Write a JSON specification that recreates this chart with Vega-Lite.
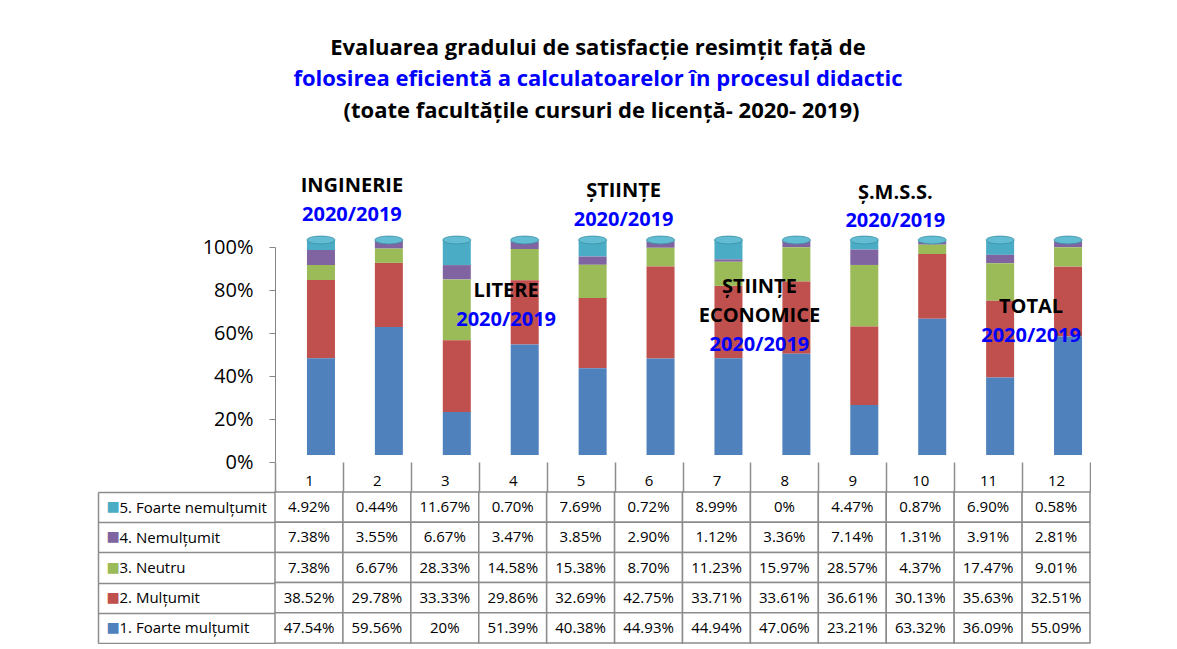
{
  "$schema": "https://vega.github.io/schema/vega-lite/v6.json",
  "autosize": {"type": "pad"},
  "padding": {"left": 97, "top": 36, "right": 0, "bottom": 0},
  "background": "white",
  "bounds": "flush",
  "spacing": 30,
  "title": {
    "text": "Evaluarea gradului de satisfacție resimțit față de",
    "subtitle": "folosirea eficientă a calculatoarelor  în procesul didactic",
    "anchor": "middle",
    "frame": "bounds",
    "font": "Open Sans", "fontSize": 22, "fontWeight": "bold", "color": "black",
    "subtitleFont": "Open Sans", "subtitleFontSize": 22, "subtitleFontWeight": "bold", "subtitleColor": "#0000FF",
    "subtitlePadding": 9,
    "offset": 9,
    "dx": 4
  },
  "datasets": {
    "tbl": [
      {"c": 1, "s": "5. Foarte nemulțumit", "v": 4.92, "t": "4.92%"},
      {"c": 1, "s": "4. Nemulțumit", "v": 7.38, "t": "7.38%"},
      {"c": 1, "s": "3. Neutru", "v": 7.38, "t": "7.38%"},
      {"c": 1, "s": "2. Mulțumit", "v": 38.52, "t": "38.52%"},
      {"c": 1, "s": "1. Foarte mulțumit", "v": 47.54, "t": "47.54%"},
      {"c": 2, "s": "5. Foarte nemulțumit", "v": 0.44, "t": "0.44%"},
      {"c": 2, "s": "4. Nemulțumit", "v": 3.55, "t": "3.55%"},
      {"c": 2, "s": "3. Neutru", "v": 6.67, "t": "6.67%"},
      {"c": 2, "s": "2. Mulțumit", "v": 29.78, "t": "29.78%"},
      {"c": 2, "s": "1. Foarte mulțumit", "v": 59.56, "t": "59.56%"},
      {"c": 3, "s": "5. Foarte nemulțumit", "v": 11.67, "t": "11.67%"},
      {"c": 3, "s": "4. Nemulțumit", "v": 6.67, "t": "6.67%"},
      {"c": 3, "s": "3. Neutru", "v": 28.33, "t": "28.33%"},
      {"c": 3, "s": "2. Mulțumit", "v": 33.33, "t": "33.33%"},
      {"c": 3, "s": "1. Foarte mulțumit", "v": 20, "t": "20%"},
      {"c": 4, "s": "5. Foarte nemulțumit", "v": 0.70, "t": "0.70%"},
      {"c": 4, "s": "4. Nemulțumit", "v": 3.47, "t": "3.47%"},
      {"c": 4, "s": "3. Neutru", "v": 14.58, "t": "14.58%"},
      {"c": 4, "s": "2. Mulțumit", "v": 29.86, "t": "29.86%"},
      {"c": 4, "s": "1. Foarte mulțumit", "v": 51.39, "t": "51.39%"},
      {"c": 5, "s": "5. Foarte nemulțumit", "v": 7.69, "t": "7.69%"},
      {"c": 5, "s": "4. Nemulțumit", "v": 3.85, "t": "3.85%"},
      {"c": 5, "s": "3. Neutru", "v": 15.38, "t": "15.38%"},
      {"c": 5, "s": "2. Mulțumit", "v": 32.69, "t": "32.69%"},
      {"c": 5, "s": "1. Foarte mulțumit", "v": 40.38, "t": "40.38%"},
      {"c": 6, "s": "5. Foarte nemulțumit", "v": 0.72, "t": "0.72%"},
      {"c": 6, "s": "4. Nemulțumit", "v": 2.90, "t": "2.90%"},
      {"c": 6, "s": "3. Neutru", "v": 8.70, "t": "8.70%"},
      {"c": 6, "s": "2. Mulțumit", "v": 42.75, "t": "42.75%"},
      {"c": 6, "s": "1. Foarte mulțumit", "v": 44.93, "t": "44.93%"},
      {"c": 7, "s": "5. Foarte nemulțumit", "v": 8.99, "t": "8.99%"},
      {"c": 7, "s": "4. Nemulțumit", "v": 1.12, "t": "1.12%"},
      {"c": 7, "s": "3. Neutru", "v": 11.23, "t": "11.23%"},
      {"c": 7, "s": "2. Mulțumit", "v": 33.71, "t": "33.71%"},
      {"c": 7, "s": "1. Foarte mulțumit", "v": 44.94, "t": "44.94%"},
      {"c": 8, "s": "5. Foarte nemulțumit", "v": 0, "t": "0%"},
      {"c": 8, "s": "4. Nemulțumit", "v": 3.36, "t": "3.36%"},
      {"c": 8, "s": "3. Neutru", "v": 15.97, "t": "15.97%"},
      {"c": 8, "s": "2. Mulțumit", "v": 33.61, "t": "33.61%"},
      {"c": 8, "s": "1. Foarte mulțumit", "v": 47.06, "t": "47.06%"},
      {"c": 9, "s": "5. Foarte nemulțumit", "v": 4.47, "t": "4.47%"},
      {"c": 9, "s": "4. Nemulțumit", "v": 7.14, "t": "7.14%"},
      {"c": 9, "s": "3. Neutru", "v": 28.57, "t": "28.57%"},
      {"c": 9, "s": "2. Mulțumit", "v": 36.61, "t": "36.61%"},
      {"c": 9, "s": "1. Foarte mulțumit", "v": 23.21, "t": "23.21%"},
      {"c": 10, "s": "5. Foarte nemulțumit", "v": 0.87, "t": "0.87%"},
      {"c": 10, "s": "4. Nemulțumit", "v": 1.31, "t": "1.31%"},
      {"c": 10, "s": "3. Neutru", "v": 4.37, "t": "4.37%"},
      {"c": 10, "s": "2. Mulțumit", "v": 30.13, "t": "30.13%"},
      {"c": 10, "s": "1. Foarte mulțumit", "v": 63.32, "t": "63.32%"},
      {"c": 11, "s": "5. Foarte nemulțumit", "v": 6.90, "t": "6.90%"},
      {"c": 11, "s": "4. Nemulțumit", "v": 3.91, "t": "3.91%"},
      {"c": 11, "s": "3. Neutru", "v": 17.47, "t": "17.47%"},
      {"c": 11, "s": "2. Mulțumit", "v": 35.63, "t": "35.63%"},
      {"c": 11, "s": "1. Foarte mulțumit", "v": 36.09, "t": "36.09%"},
      {"c": 12, "s": "5. Foarte nemulțumit", "v": 0.58, "t": "0.58%"},
      {"c": 12, "s": "4. Nemulțumit", "v": 2.81, "t": "2.81%"},
      {"c": 12, "s": "3. Neutru", "v": 9.01, "t": "9.01%"},
      {"c": 12, "s": "2. Mulțumit", "v": 32.51, "t": "32.51%"},
      {"c": 12, "s": "1. Foarte mulțumit", "v": 55.09, "t": "55.09%"}
    ],
    "ann": [
      {"c": 1, "t": "INGINERIE", "y": 1.284, "k": "n"},
      {"c": 1, "t": "2020/2019", "y": 1.149, "k": "y"},
      {"c": 5, "t": "ȘTIINȚE", "y": 1.26, "k": "n"},
      {"c": 5, "t": "2020/2019", "y": 1.126, "k": "y"},
      {"c": 7, "t": "ȘTIINȚE", "y": 0.814, "k": "n"},
      {"c": 7, "t": "ECONOMICE", "y": 0.679, "k": "n"},
      {"c": 7, "t": "2020/2019", "y": 0.544, "k": "y"},
      {"c": 9, "t": "Ș.M.S.S.", "y": 1.251, "k": "n"},
      {"c": 9, "t": "2020/2019", "y": 1.121, "k": "y"},
      {"c": 11, "t": "TOTAL", "y": 0.721, "k": "n"},
      {"c": 11, "t": "2020/2019", "y": 0.586, "k": "y"}
    ],
    "ann2": [
      {"c": 4, "t": "LITERE", "y": 0.795, "k": "n"},
      {"c": 4, "t": "2020/2019", "y": 0.66, "k": "y"}
    ]
  },
  "vconcat": [
    {
      "width": 815,
      "height": 215,
      "title": {
        "text": "(toate facultățile cursuri de licență- 2020- 2019)",
        "font": "Open Sans", "fontSize": 22, "fontWeight": "bold", "color": "black",
        "anchor": "middle", "frame": "group", "offset": 53, "dx": -81
      },
      "layer": [
        {
          "mark": {"type": "rule", "color": "#a0a0a0", "strokeWidth": 2, "yOffset": -18, "xOffset": 22},
          "encoding": {"y": {"datum": 0, "type": "quantitative"}}
        },
        {
          "data": {"name": "tbl"},
          "transform": [
            {"stack": "v", "groupby": ["c"], "sort": [{"field": "s", "order": "ascending"}], "offset": "normalize", "as": ["v0", "v1"]}
          ],
          "mark": {"type": "bar", "width": 28, "yOffset": -7, "y2Offset": -7},
          "encoding": {
            "x": {"field": "c", "type": "ordinal", "scale": {"paddingInner": 0, "paddingOuter": 0, "range": [12, 827]}, "axis": null},
            "y": {
              "field": "v0", "type": "quantitative",
              "scale": {"domain": [0, 1]},
              "axis": {
                "values": [0, 0.1, 0.2, 0.3, 0.4, 0.5, 0.6, 0.7, 0.8, 0.9, 1],
                "format": ".0%", "title": null, "grid": false, "labelOverlap": false,
                "labelFont": "Open Sans", "labelFontSize": 20, "labelColor": "black",
                "tickSize": 6, "tickColor": "#868686", "domainColor": "#868686",
                "labelPadding": 16
              }
            },
            "y2": {"field": "v1"},
            "color": {
              "field": "s", "type": "nominal",
              "scale": {
                "domain": ["1. Foarte mulțumit", "2. Mulțumit", "3. Neutru", "4. Nemulțumit", "5. Foarte nemulțumit"],
                "range": ["#4F81BD", "#C0504D", "#9BBB59", "#8064A2", "#4BACC6"]
              },
              "legend": null
            }
          }
        },
        {
          "mark": {"type": "rule", "color": "#a0a0a0", "strokeWidth": 2},
          "encoding": {"y": {"datum": 0, "type": "quantitative"}}
        },
        {
          "data": {"name": "tbl"},
          "transform": [
            {"stack": "v", "groupby": ["c"], "sort": [{"field": "s", "order": "ascending"}], "offset": "normalize", "as": ["v0", "v1"]},
            {"filter": "datum.s === '5. Foarte nemulțumit'"}
          ],
          "mark": {"type": "point", "filled": true, "opacity": 1, "size": 784, "color": "#62BDD3", "stroke": "#3B8FA6", "strokeWidth": 0.8, "yOffset": -7,
                   "shape": "M -1 0 A 1 0.28 0 1 0 1 0 A 1 0.28 0 1 0 -1 0 Z"},
          "encoding": {
            "x": {"field": "c", "type": "ordinal", "axis": null},
            "y": {"field": "v1", "type": "quantitative"}
          }
        },
        {
          "data": {"name": "ann"},
          "mark": {"type": "text", "font": "Open Sans", "fontSize": 20, "fontWeight": "bold", "dx": -3},
          "encoding": {
            "x": {"field": "c", "type": "ordinal", "bandPosition": 1},
            "y": {"field": "y", "type": "quantitative"},
            "text": {"field": "t"},
            "color": {"condition": {"test": "datum.k === 'y'", "value": "#0000FF"}, "value": "black"}
          }
        },
        {
          "data": {"name": "ann2"},
          "mark": {"type": "text", "font": "Open Sans", "fontSize": 20, "fontWeight": "bold", "dx": -5},
          "encoding": {
            "x": {"field": "c", "type": "ordinal", "bandPosition": 0.3},
            "y": {"field": "y", "type": "quantitative"},
            "text": {"field": "t"},
            "color": {"condition": {"test": "datum.k === 'y'", "value": "#0000FF"}, "value": "black"}
          }
        }
      ]
    },
    {
      "width": 815,
      "height": 151,
      "data": {"name": "tbl"},
      "resolve": {"scale": {"y": "independent"}, "axis": {"y": "independent"}},
      "layer": [
        {
          "mark": {"type": "rect", "fill": "white", "stroke": "#8c8c8c", "strokeWidth": 1.5},
          "encoding": {
            "x": {
              "field": "c", "type": "ordinal",
              "scale": {"paddingInner": 0, "paddingOuter": 0},
              "axis": {
                "orient": "top", "title": null, "labelAngle": 0,
                "labelFont": "Open Sans", "labelFontSize": 15, "labelColor": "black",
                "labelPadding": -26, "tickBand": "extent", "tickSize": 30,
                "tickColor": "#8c8c8c", "tickWidth": 1.5, "domain": false
              }
            },
            "y": {
              "field": "s", "type": "nominal",
              "sort": ["5. Foarte nemulțumit", "4. Nemulțumit", "3. Neutru", "2. Mulțumit", "1. Foarte mulțumit"],
              "scale": {"paddingInner": 0, "paddingOuter": 0},
              "axis": {
                "orient": "left", "offset": 177, "title": null, "ticks": false, "grid": false,
                "domain": true, "domainColor": "#8c8c8c", "domainWidth": 1.5,
                "labelExpr": "'■'", "labelAlign": "left", "labelPadding": -8,
                "labelFont": "DejaVu Sans", "labelFontSize": 14,
                "labelColor": {
                  "condition": [
                    {"test": "datum.value === '1. Foarte mulțumit'", "value": "#4F81BD"},
                    {"test": "datum.value === '2. Mulțumit'", "value": "#C0504D"},
                    {"test": "datum.value === '3. Neutru'", "value": "#9BBB59"},
                    {"test": "datum.value === '4. Nemulțumit'", "value": "#8064A2"}
                  ],
                  "value": "#4BACC6"
                }
              }
            }
          }
        },
        {
          "mark": {"type": "text", "font": "Open Sans", "fontSize": 15, "color": "black"},
          "encoding": {
            "x": {"field": "c", "type": "ordinal"},
            "y": {
              "field": "s", "type": "nominal",
              "sort": ["5. Foarte nemulțumit", "4. Nemulțumit", "3. Neutru", "2. Mulțumit", "1. Foarte mulțumit"],
              "scale": {"paddingInner": 0, "paddingOuter": 0},
              "axis": {
                "orient": "left", "title": null, "grid": false, "domain": false,
                "labelAlign": "left", "labelPadding": -21,
                "labelFont": "Open Sans", "labelFontSize": 15, "labelColor": "black",
                "tickBand": "extent", "tickSize": 177, "tickColor": "#8c8c8c", "tickWidth": 1.5
              }
            },
            "text": {"field": "t"}
          }
        }
      ]
    }
  ],
  "config": {"view": {"stroke": null}, "axisQuantitative": {"labelOverlap": false, "tickCount": 10}}
}
